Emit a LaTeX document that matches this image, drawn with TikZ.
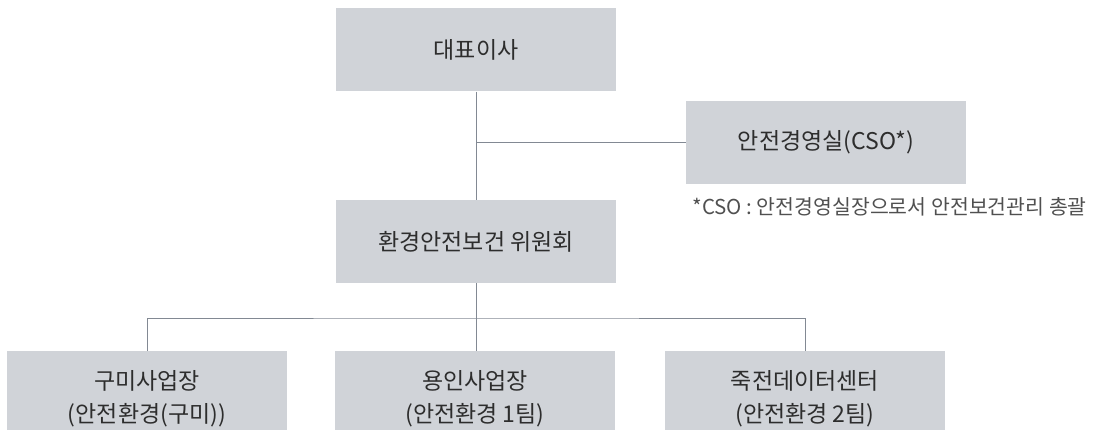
\documentclass[tikz,border=0pt]{standalone}
\usepackage{fontspec}
\setmainfont{Noto Sans CJK KR}
\usepackage{tikz}
\usepackage{xcolor}
\definecolor{boxgray}{RGB}{208,211,216}
\definecolor{linegray}{RGB}{130,137,147}
\definecolor{textgray}{RGB}{45,45,45}
\definecolor{notegray}{RGB}{80,80,80}
\usetikzlibrary{calc}

\begin{document}
\begin{tikzpicture}[x=1pt,y=1pt,
    box/.style={fill=boxgray, text=textgray, minimum width=280pt,
                minimum height=83pt, inner sep=0pt, align=center,
                font=\fontsize{23}{33}\selectfont},
    site/.style={box, minimum height=95pt},
    link/.style={draw=linegray, line width=1pt}]
    \useasboundingbox (0,0) rectangle (1095,429);

    % top of the chart
    \node[box] (ceo) at (476,379) {대표이사};
    \node[box] (cso) at (826,286.5) {안전경영실(CSO*)};
    \node[anchor=west, text=notegray, font=\fontsize{20.5}{0}\selectfont]
        (note) at (689,222) {*CSO : 안전경영실장으로서 안전보건관리 총괄};
    \node[box] (comm) at (476,187.5) {환경안전보건 위원회};

    % sites
    \node[site] (gumi) at (147,30.5) {구미사업장\\(안전환경(구미))};
    \node[site] (yongin) at (475,30.5) {용인사업장\\(안전환경 1팀)};
    \node[site] (jukjeon) at (805,30.5) {죽전데이터센터\\(안전환경 2팀)};

    \draw[link] (ceo.south) -- (comm.north);
    \draw[link] (ceo.south |- cso.west) -- (cso.west);
    \coordinate (split) at (476,111);
    \draw[link] (comm.south) -- (split);
    \draw[link] (gumi.north) |- (split) -| (jukjeon.north);
    \draw[link] (split) -- (split |- yongin.north);
\end{tikzpicture}
\end{document}
